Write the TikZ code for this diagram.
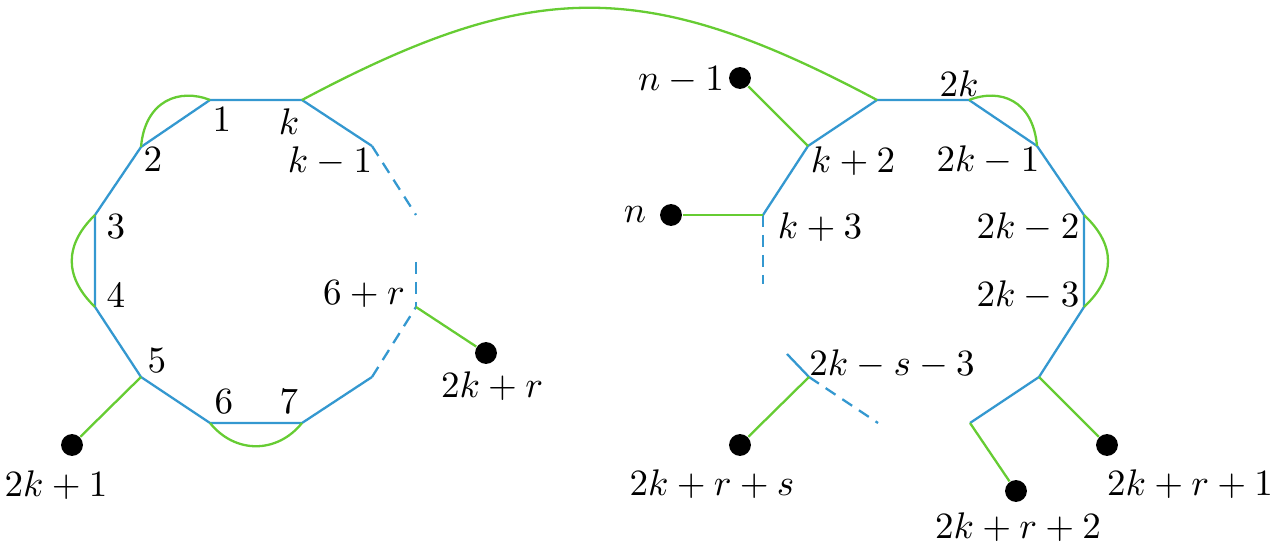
\documentclass[tikz,border=0pt]{standalone}
\begin{document}
\begin{tikzpicture}[x=0.27pt, y=-0.27pt]
\definecolor{eblue}{RGB}{52,152,208}
\definecolor{egreen}{RGB}{102,204,51}
\tikzset{
  bl/.style={draw=eblue, line width=0.62pt},
  bld/.style={draw=eblue, line width=0.62pt, dash pattern=on 3.2pt off 2.2pt},
  gr/.style={draw=egreen, line width=0.62pt},
  dot/.style={circle, fill=black, inner sep=0pt, minimum size=5.9pt},
  lab/.style={inner sep=0pt}
}
\useasboundingbox (0,0) rectangle (1272,545);
% left polygon vertices
\coordinate (v1) at (210,100);
\coordinate (vk) at (302,100);
\coordinate (vkm) at (372,146);
\coordinate (v2) at (141,147);
\coordinate (v3) at (95,215);
\coordinate (v4) at (95,307);
\coordinate (v5) at (141,377);
\coordinate (v6) at (210,423);
\coordinate (v7) at (302,423);
\coordinate (v8) at (372,377);
\coordinate (vr) at (416,307);
\coordinate (e1) at (416,215);
\coordinate (e2) at (416,262);
% right tree vertices
\coordinate (A) at (877,100);
\coordinate (B) at (969,100);
\coordinate (B1) at (1037,146);
\coordinate (B2) at (1084,215);
\coordinate (B3) at (1084,307);
\coordinate (F) at (1039,377);
\coordinate (G) at (970,423);
\coordinate (C) at (808,146);
\coordinate (D) at (763,215);
\coordinate (e3) at (763,284);
\coordinate (E) at (809,377);
\coordinate (e4) at (787,354);
\coordinate (e5) at (878,423);
% dots
\node[dot] (d1) at (72,445) {};
\node[dot] (d2) at (486,353) {};
\node[dot] (dn1) at (740,78) {};
\node[dot] (dn) at (671,215) {};
\node[dot] (ds) at (740,445) {};
\node[dot] (dr1) at (1107,445) {};
\node[dot] (dr2) at (1016,491) {};
% blue edges
\draw[bl] (vkm) -- (vk) -- (v1) -- (v2) -- (v3) -- (v4) -- (v5) -- (v6) -- (v7) -- (v8);
\draw[bld] (vkm) -- (e1);
\draw[bld] (e2) -- (vr);
\draw[bld] (v8) -- (vr);
\draw[bl] (D) -- (C) -- (A) -- (B) -- (B1) -- (B2) -- (B3) -- (F) -- (G);
\draw[bld] (D) -- (e3);
\draw[bl] (e4) -- (E);
\draw[bld] (E) -- (e5);
% green edges
\draw[gr] (d1) -- (v5);
\draw[gr] (d2) -- (vr);
\draw[gr] (dn1) -- (C);
\draw[gr] (dn) -- (D);
\draw[gr] (ds) -- (E);
\draw[gr] (dr1) -- (F);
\draw[gr] (dr2) -- (G);
\draw[gr] (v1) .. controls (180,88) and (145,100) .. (v2);
\draw[gr] (v3) .. controls (64,245) and (64,277) .. (v4);
\draw[gr] (v6) .. controls (235,454) and (277,454) .. (v7);
\draw[gr] (vk) .. controls (533,-23) and (646,-23) .. (A);
\draw[gr] (B) .. controls (1000,88) and (1033,100) .. (B1);
\draw[gr] (B2) .. controls (1116,245) and (1116,277) .. (B3);
% labels
\node[lab] (l1) at (222,120) {$1$};
\node[lab] (lk) at (289,122) {$k$};
\node[lab] (l2) at (153,160) {$2$};
\node[lab] (lkm) at (330,161) {$k-1$};
\node[lab] (l3) at (116,227) {$3$};
\node[lab] (l4) at (116,296) {$4$};
\node[lab] (l5) at (157,361) {$5$};
\node[lab] (l6) at (224,402) {$6$};
\node[lab] (l7) at (289,402) {$7$};
\node[lab] (l6r) at (364,294) {$6+r$};
\node[lab] (l2kr) at (492,386) {$2k+r$};
\node[lab] (l2k1) at (56,485) {$2k+1$};
\node[lab] (ln1) at (681,80) {$n-1$};
\node[lab] (ln) at (635,215) {$n$};
\node[lab] (lk2) at (853,161) {$k+2$};
\node[lab] (lk3) at (820,227) {$k+3$};
\node[lab] (l2k) at (959,84) {$2k$};
\node[lab] (l2km1) at (988,160) {$2k-1$};
\node[lab] (l2km2) at (1028,227) {$2k-2$};
\node[lab] (l2km3) at (1028,295) {$2k-3$};
\node[lab] (l2ks3) at (892,364) {$2k-s-3$};
\node[lab] (l2krs) at (712,484) {$2k+r+s$};
\node[lab] (l2kr2) at (1018,527) {$2k+r+2$};
\node[lab] (l2kr1) at (1190,484) {$2k+r+1$};
\end{tikzpicture}
\end{document}
